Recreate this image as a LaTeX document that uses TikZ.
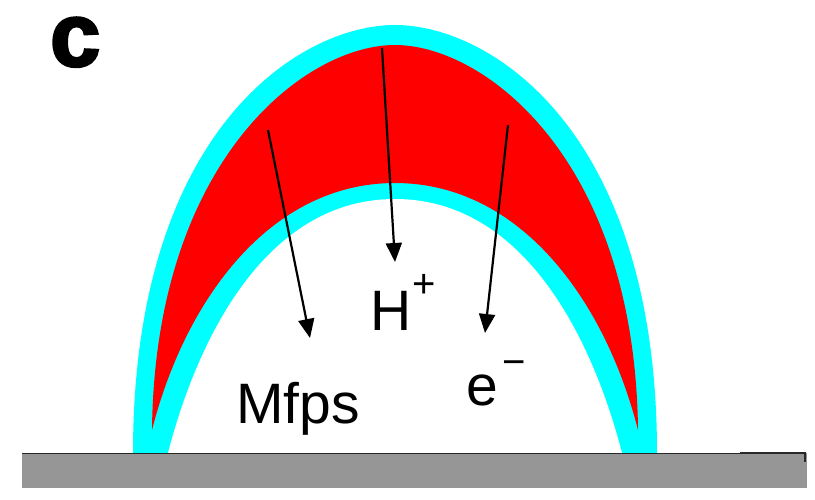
\documentclass[tikz,border=0pt]{standalone}
\usepackage{fontspec}
\setmainfont{Liberation Sans}
\newfontfamily\heavyfont{Liberation Sans Bold}[FakeBold=3]
\usetikzlibrary{arrows.meta}
\definecolor{domecyan}{RGB}{0,255,255}
\definecolor{domered}{RGB}{255,0,0}
\definecolor{basegray}{RGB}{150,150,150}
\definecolor{baseedge}{RGB}{40,40,40}
\begin{document}
\begin{tikzpicture}[x=1pt,y=-1pt,
  flux/.style={line width=2.2pt,black,-{Triangle[length=19pt,width=16pt]}},
  lbl/.style={inner sep=0pt,anchor=base west,font=\fontsize{57}{57}\selectfont}]
\useasboundingbox (0,0) rectangle (815,499);
% outer cyan dome
\fill[domecyan] (133,453) .. controls (133,130) and (300,25) .. (395,25)
  .. controls (490,25) and (657,130) .. (657,453) -- cycle;
% red crescent
\fill[domered] (152,430) .. controls (155,160) and (305,45) .. (395,45)
  .. controls (485,45) and (635,160) .. (638,430)
  .. controls (605,300) and (520,183) .. (395,183)
  .. controls (270,183) and (185,300) .. (152,430) -- cycle;
% white interior
\fill[white] (168,453) .. controls (200,330) and (270,199) .. (395,199)
  .. controls (520,199) and (590,330) .. (622,453) -- cycle;
% base
\fill[basegray] (22,453) rectangle (807,488);
\draw[baseedge,line width=1.2pt] (22,453.6) -- (740,453.6);
\draw[baseedge,line width=2pt] (740,452.5) -- (805,452.5) -- (805,462);
% arrows
\coordinate (mfpsTail) at (268,130);
\coordinate (mfpsHead) at (310,338);
\coordinate (hTail) at (382,48);
\coordinate (hHead) at (395,262);
\coordinate (eTail) at (508,125);
\coordinate (eHead) at (485,333);
\draw[flux] (mfpsTail) -- (mfpsHead);
\draw[flux] (hTail) -- (hHead);
\draw[flux] (eTail) -- (eHead);
% labels
\node[lbl] (mfps) at (236,423) {Mfps};
\node[lbl] (hion) at (370,330) {H\kern1pt\raisebox{33pt}{\fontsize{40}{40}\selectfont +}};
\node[lbl] (eion) at (466,405) {e\kern5pt\raisebox{30pt}{\fontsize{40}{40}\selectfont −}};
\node[inner sep=5pt,anchor=base west,font=\heavyfont\fontsize{90}{90}\selectfont] (panel) at (45,66) {c};
\end{tikzpicture}
\end{document}
